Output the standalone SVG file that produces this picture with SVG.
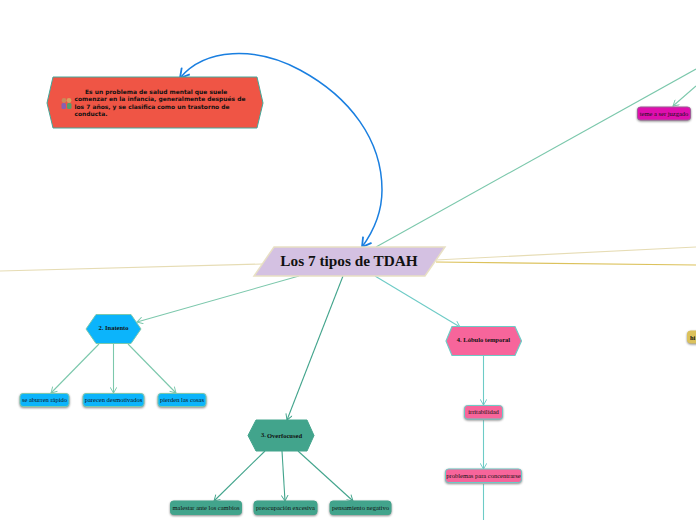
<svg xmlns="http://www.w3.org/2000/svg" width="696" height="520" viewBox="0 0 696 520">
<style>
.t{font-family:"Liberation Serif",serif;font-size:6.5px;fill:#111;text-anchor:middle}
.h{font-family:"Liberation Serif",serif;font-size:6.5px;font-weight:bold;fill:#111;text-anchor:middle}
.s{font-family:"DejaVu Sans",sans-serif;font-size:5.95px;font-weight:bold;fill:#111}
.c{fill:none;stroke-width:1.100}
.g{stroke:#7cc8ac}.d{stroke:#42a48c}.p{stroke:#6dcbc6}
.leaf{stroke-width:1;filter:drop-shadow(0 1px 1px #888)}
</style>
<defs>
<marker id="ag" viewBox="0 0 8 8" refX="7" refY="4" markerWidth="7" markerHeight="7" orient="auto"><path d="M1 .5L7 4L1 7.5" fill="none" stroke="#7cc8ac"/></marker>
<marker id="ad" viewBox="0 0 8 8" refX="7" refY="4" markerWidth="7" markerHeight="7" orient="auto"><path d="M1 .5L7 4L1 7.5" fill="none" stroke="#42a48c"/></marker>
<marker id="ap" viewBox="0 0 8 8" refX="7" refY="4" markerWidth="7" markerHeight="7" orient="auto"><path d="M1 .5L7 4L1 7.5" fill="none" stroke="#6dcbc6"/></marker>
<marker id="ab" viewBox="0 0 8 8" refX="7" refY="4" markerWidth="8" markerHeight="8" orient="auto-start-reverse"><path d="M1 .5L7 4L1 7.5" fill="none" stroke="#1a7fe0" stroke-width="1.200"/></marker>
</defs>
<rect width="696" height="520" fill="#fff"/>
<g id="connectors">
<path class="c" stroke="#e6dcb4" d="M0 271L262 264"/>
<path class="c" stroke="#e6dcb4" d="M436 260L696 247"/>
<path class="c" stroke="#dcc25c" d="M436 262L696 265"/>
<path class="c g" d="M376 247L696 69"/>
<path class="c g" marker-end="url(#ag)" d="M696 86L673 106"/>
<path class="c g" marker-end="url(#ag)" d="M299 276L137 322"/>
<path class="c g" marker-end="url(#ag)" d="M99 344L51 393"/>
<path class="c g" marker-end="url(#ag)" d="M113.500 344L113.500 393"/>
<path class="c g" marker-end="url(#ag)" d="M128 344L176 393"/>
<path class="c d" marker-end="url(#ad)" d="M343 276L287 420"/>
<path class="c d" marker-end="url(#ad)" d="M265 451L214 501"/>
<path class="c d" marker-end="url(#ad)" d="M282 451L285 501"/>
<path class="c d" marker-end="url(#ad)" d="M298 451L353 501"/>
<path class="c p" marker-end="url(#ap)" d="M375 276L460 327"/>
<path class="c p" marker-end="url(#ap)" d="M483.500 356L483.500 405"/>
<path class="c p" marker-end="url(#ap)" d="M483.500 420L483.500 469"/>
<path class="c p" d="M483.500 484L483.500 520"/>
<path d="M180 78C205 48 255 46 300 70C350 97 382 140 382 190C382 212 373 232 362 247" fill="none" stroke="#1a7fe0" stroke-width="1.500" marker-start="url(#ab)" marker-end="url(#ab)"/>
</g>
<g id="node-root">
<path d="M274 247H445L425 276H254Z" fill="#d4c1e2" stroke="#e8e0c4" stroke-width="1.500"/>
<text x="349" y="266" text-anchor="middle" font-family="Liberation Serif,serif" font-size="15.300" font-weight="bold" fill="#111">Los 7 tipos de TDAH</text>
</g>
<g id="node-desc">
<path d="M53 77H257L263 103L257 128H53L47 103Z" fill="#ef5545" stroke="#45a89a" stroke-width="1"/>
<text x="85" y="93.500" class="s">Es un problema de salud mental que suele</text>
<text x="74.500" y="101" class="s">comenzar en la infancia, generalmente después de</text>
<text x="74.500" y="108.500" class="s">los 7 años, y se clasifica como un trastorno de</text>
<text x="74.500" y="116" class="s">conducta.</text>
<g id="desc-icon"><circle cx="64" cy="100.500" r="2.400" fill="#c98a5a"/><circle cx="69" cy="100.500" r="2.400" fill="#d9a05f"/><rect x="61.500" y="103" width="4.500" height="6" rx="1.500" fill="#8a5fb0"/><rect x="67" y="103" width="4.500" height="6" rx="1.500" fill="#55a06a"/></g>
</g>
<g id="node-inatento">
<path d="M96 314.500H131L141 329L131 343.500H96L86 329Z" fill="#0cb4fb" stroke="#7cc8ac"/>
<text x="113.500" y="330" class="h">2. Inatento</text>
</g>
<g id="node-aburren"><rect class="leaf" x="20" y="393.500" width="49" height="13" rx="3" fill="#0cb4fb" stroke="#7cc8ac"/><text x="44.500" y="402" class="t">se aburren rápido</text></g>
<g id="node-desmotivados"><rect class="leaf" x="83" y="393.500" width="61" height="13" rx="3" fill="#0cb4fb" stroke="#7cc8ac"/><text x="113.500" y="402" class="t">parecen desmotivados</text></g>
<g id="node-pierden"><rect class="leaf" x="158" y="393.500" width="48" height="13" rx="3" fill="#0cb4fb" stroke="#7cc8ac"/><text x="182" y="402" class="t">pierden las cosas</text></g>
<g id="node-overfocused">
<path d="M256 420H307L314 435.500L307 451H256L248 435.500Z" fill="#42a48c" stroke="#42a48c"/>
<text x="261" y="437" font-family="Liberation Serif,serif" font-size="6.500" font-weight="bold" fill="#111">3.</text>
<text x="284.500" y="438" class="h">Overfocused</text>
</g>
<g id="node-malestar"><rect class="leaf" x="170.500" y="501" width="71" height="13.500" rx="3" fill="#42a48c" stroke="#42a48c"/><text x="206" y="509.500" class="t">malestar ante los cambios</text></g>
<g id="node-preocupacion"><rect class="leaf" x="254" y="501" width="63" height="13.500" rx="3" fill="#42a48c" stroke="#42a48c"/><text x="285.500" y="509.500" class="t">preocupación excesiva</text></g>
<g id="node-pensamiento"><rect class="leaf" x="330" y="501" width="61" height="13.500" rx="3" fill="#42a48c" stroke="#42a48c"/><text x="360.500" y="509.500" class="t">pensamiento negativo</text></g>
<g id="node-lobulo">
<path d="M452 326.500H515L521.500 341L515 355.500H452L446 341Z" fill="#f7659b" stroke="#6dcbc6" stroke-width="1.200"/>
<text x="483.500" y="342" class="h">4. Lóbulo temporal</text>
</g>
<g id="node-irritabilidad"><rect class="leaf" x="464.500" y="405.500" width="38" height="13.500" rx="3" fill="#f7659b" stroke="#6dcbc6"/><text x="483.500" y="414" class="t">irritabilidad</text></g>
<g id="node-problemas"><rect class="leaf" x="445.500" y="469" width="76" height="13.500" rx="3" fill="#f7659b" stroke="#6dcbc6"/><text x="483.500" y="477.500" class="t">problemas para concentrarse</text></g>
<g id="node-juzgado"><rect class="leaf" x="637.500" y="107" width="53" height="13" rx="3" fill="#df0fae" stroke="#a05a98"/><text x="664" y="115.800" class="t">teme a ser juzgado</text></g>
<g id="node-hi"><rect class="leaf" x="687.500" y="331" width="20" height="12" rx="3" fill="#dcc25c" stroke="#dcc25c"/><text x="690" y="339.500" font-family="Liberation Serif,serif" font-size="6.500" font-weight="bold" fill="#111">hi</text></g>
</svg>
